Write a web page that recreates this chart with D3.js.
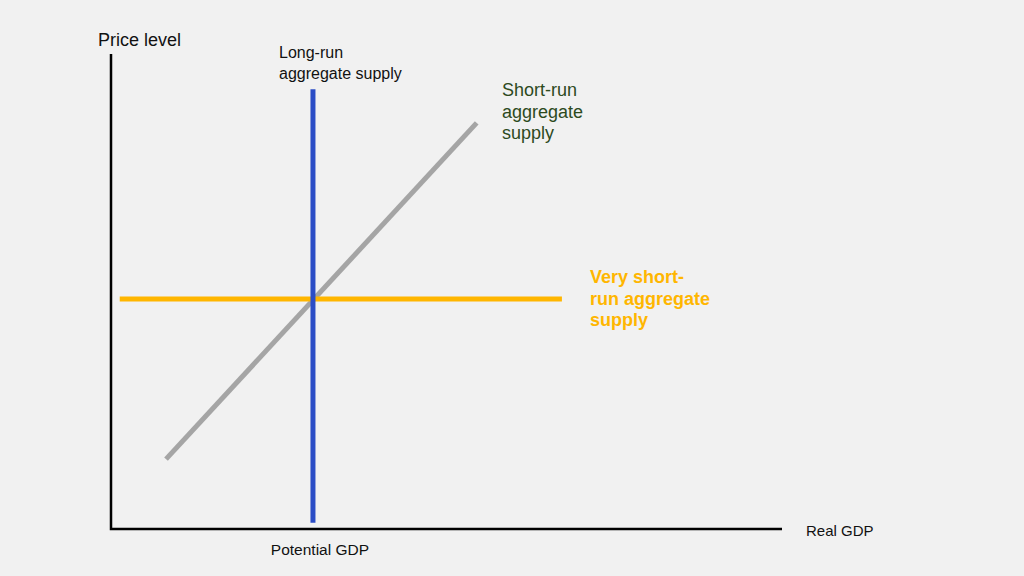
<!DOCTYPE html>
<html><head><meta charset="utf-8">
<script src="https://cdn.jsdelivr.net/npm/d3@7"></script>
<style>
html,body{margin:0;padding:0;background:#f1f1f1;}
svg{display:block;}
text{font-family:"Liberation Sans",Arial,sans-serif;}
</style></head>
<body>
<svg id="chart" width="1024" height="576"></svg>
<script>
// Data (in abstract chart units: 0-100 on each axis)
const lras = [{x:30.1, y:1.3},{x:30.1, y:92.6}];
const sras = [{x:8.2, y:14.7},{x:54.5, y:85.5}];
const vsras = [{x:1.3, y:48.4},{x:67.2, y:48.4}];
const axisLabels = {y:"Price level", x:"Real GDP", potential:"Potential GDP"};
const lrasLabel = ["Long-run","aggregate supply"];
const srasLabel = ["Short-run","aggregate","supply"];
const vsrasLabel = ["Very short-","run aggregate","supply"];

const svg = d3.select("#chart");
const W=1024,H=576;
svg.append("rect").attr("width",W).attr("height",H).attr("fill","#f1f1f1");

const x = d3.scaleLinear().domain([0,100]).range([111,782]);
const y = d3.scaleLinear().domain([0,100]).range([529,54]);
const line = d3.line().x(d=>x(d.x)).y(d=>y(d.y));

// axes
svg.append("path")
  .attr("d", line([{x:0,y:100},{x:0,y:0},{x:100,y:0}]))
  .attr("fill","none").attr("stroke","#000").attr("stroke-width",2.5);

svg.append("path").attr("d",line(sras)).attr("stroke","#a5a5a5").attr("stroke-width",5).attr("fill","none");
svg.append("path").attr("d",line(vsras)).attr("stroke","#ffb600").attr("stroke-width",5).attr("fill","none");
svg.append("path").attr("d",line(lras)).attr("stroke","#2b4dc6").attr("stroke-width",5).attr("fill","none");

// labels
svg.append("text").attr("x",98).attr("y",46).attr("font-size",18).attr("fill","#111").text(axisLabels.y);
svg.append("text").attr("x",806).attr("y",536).attr("font-size",15).attr("fill","#111").text(axisLabels.x);
svg.append("text").attr("x",x(lras[0].x)+7).attr("y",555).attr("font-size",15.5).attr("fill","#111")
  .attr("text-anchor","middle").text(axisLabels.potential);

lrasLabel.forEach((t,i)=>svg.append("text").attr("x",279).attr("y",58+i*21)
  .attr("font-size",16).attr("fill","#111").text(t));
srasLabel.forEach((t,i)=>svg.append("text").attr("x",502).attr("y",96+i*21.5)
  .attr("font-size",18).attr("fill","#2d4a1e").text(t));
vsrasLabel.forEach((t,i)=>svg.append("text").attr("x",590).attr("y",283+i*21.5)
  .attr("font-size",18).attr("font-weight","bold").attr("fill","#ffb600").text(t));
</script>
</body></html>
